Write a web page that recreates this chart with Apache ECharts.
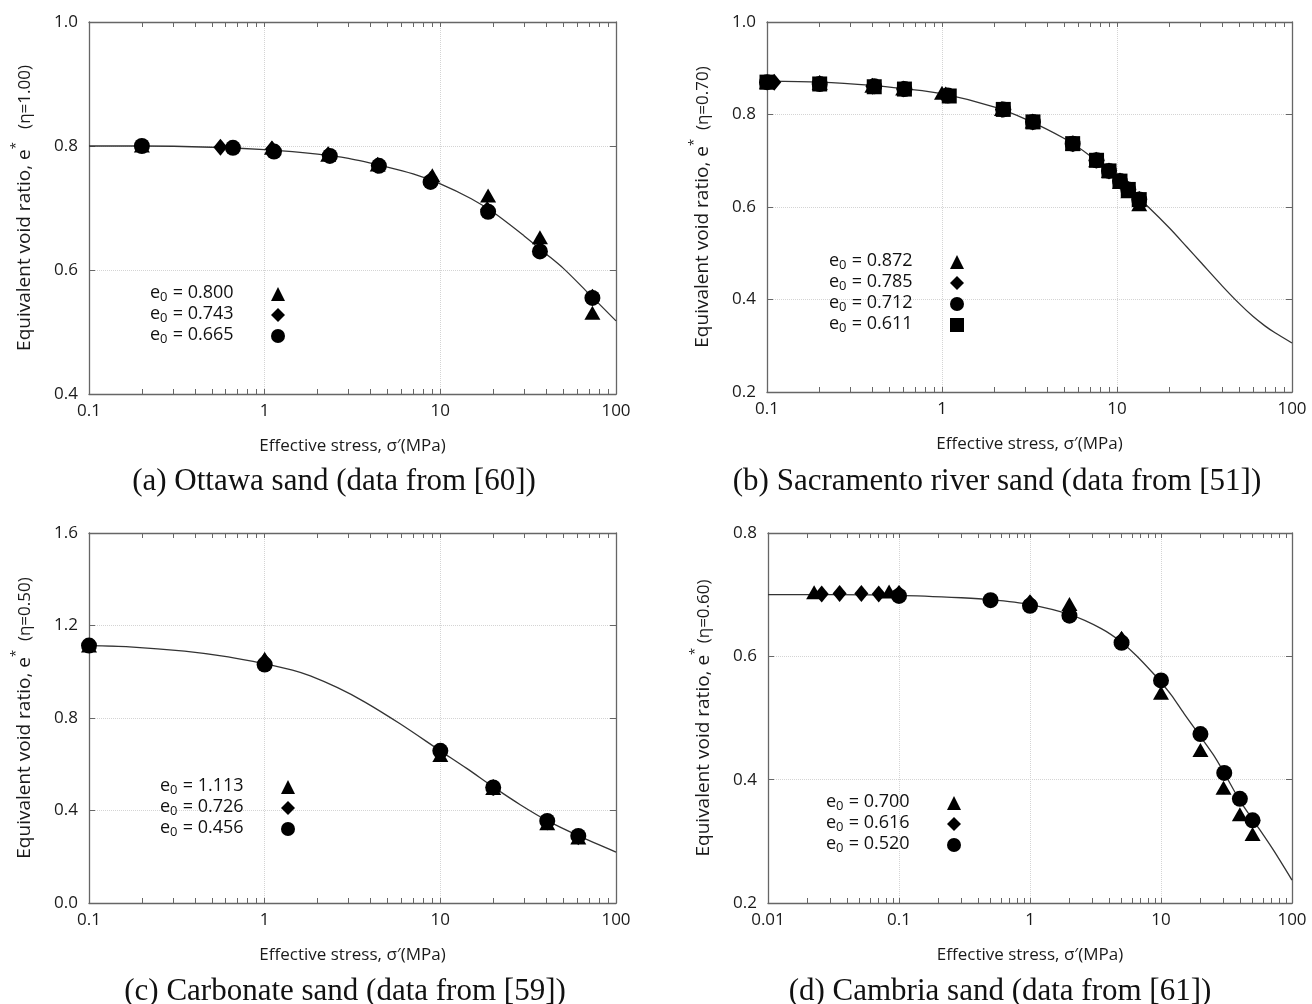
<!DOCTYPE html>
<html><head><meta charset="utf-8">
<script src="https://cdn.jsdelivr.net/npm/echarts@6.0.0/dist/echarts.min.js"></script>
<style>html,body{margin:0;padding:0;background:#fff}#c{width:1312px;height:1004px}</style>
</head><body><div id="c"></div><script>
// ---------- DATA ----------
// (a) Ottawa sand
const aLabels = ['0.800', '0.743', '0.665'];
const aTri = [[0.2,0.801],[1.1,0.797],[2.3,0.786],[4.4,0.770],[9.0,0.753],[18.7,0.720],[36.9,0.653],[73.4,0.531]];
const aDia = [[0.56,0.798],[1.1,0.795],[2.3,0.786],[4.4,0.769],[8.8,0.746],[18.5,0.697],[36.9,0.633],[73.4,0.556]];
const aCir = [[0.2,0.800],[0.66,0.797],[1.13,0.791],[2.35,0.784],[4.47,0.768],[8.8,0.742],[18.7,0.694],[36.9,0.630],[73.4,0.555]];
const aCurve = [[0.1,0.800],[0.2,0.800],[0.5,0.798],[1,0.794],[2,0.787],[3,0.780],[5,0.766],[7,0.755],[10,0.739],[15,0.715],[20,0.693],[30,0.655],[40,0.626],[50,0.603],[70,0.562],[100,0.518]];
// (b) Sacramento river sand
const bLabels = ['0.872', '0.785', '0.712', '0.611'];
const bTri = [[0.1,0.870],[0.2,0.868],[0.4,0.862],[0.6,0.856],[1.0,0.847],[2.2,0.812],[3.3,0.785],[5.6,0.737],[7.6,0.701],[9.0,0.678],[10.4,0.654],[11.6,0.634],[13.4,0.606]];
const bDia = [[0.11,0.870],[0.2,0.867],[0.4,0.861],[0.6,0.855],[1.05,0.842],[2.2,0.811],[3.3,0.784],[5.6,0.737],[7.6,0.701],[9.0,0.678],[10.4,0.656],[11.6,0.638],[13.4,0.616]];
const bCir = [[0.1,0.870],[0.2,0.866],[0.41,0.861],[0.61,0.855],[1.08,0.841],[2.24,0.811],[3.31,0.784],[5.58,0.737],[7.64,0.701],[9.0,0.678],[10.4,0.656],[11.6,0.638],[13.4,0.616]];
const bSq = [[0.1,0.870],[0.2,0.866],[0.41,0.860],[0.61,0.855],[1.1,0.840],[2.24,0.811],[3.31,0.784],[5.58,0.737],[7.64,0.701],[9.0,0.678],[10.4,0.656],[11.6,0.638],[13.4,0.616]];
const bCurve = [[0.1,0.872],[0.2,0.870],[0.4,0.863],[0.6,0.856],[1,0.845],[2,0.816],[3,0.790],[5,0.748],[7,0.711],[10,0.663],[15,0.601],[20,0.554],[25,0.514],[30,0.481],[40,0.429],[50,0.391],[60,0.363],[70,0.343],[80,0.328],[100,0.306]];
// (c) Carbonate sand
const cLabels = ['1.113', '0.726', '0.456'];
const cTri = [[0.1,1.113],[1,1.056],[10,0.640],[20,0.497],[40.6,0.345],[61,0.283]];
const cDia = [[1,1.045],[10,0.650],[20,0.500],[40.6,0.350],[61,0.287]];
const cCir = [[0.1,1.113],[1,1.031],[10,0.658],[20,0.500],[40.6,0.355],[61,0.290]];
const cCurve = [[0.1,1.113],[0.17,1.108],[0.35,1.089],[0.62,1.064],[1,1.034],[1.44,1.007],[1.82,0.982],[2.6,0.931],[3.7,0.870],[5.9,0.775],[10,0.658],[14.2,0.581],[20,0.502],[28.5,0.425],[40.6,0.356],[61,0.291],[100,0.220]];
// (d) Cambria sand
const dLabels = ['0.700', '0.616', '0.520'];
const dTri = [[0.0225,0.704],[0.084,0.705],[2,0.685],[5,0.630],[10,0.541],[20,0.448],[30,0.387],[40,0.344],[50,0.312]];
const dDia = [[0.0257,0.701],[0.0352,0.702],[0.0516,0.702],[0.070,0.701],[0.1,0.702],[1,0.687],[5,0.627]];
const dCir = [[0.1,0.698],[0.5,0.691],[1,0.682],[2,0.666],[5,0.622],[10,0.561],[20,0.474],[30.4,0.411],[40,0.369],[50,0.334]];
const dCurve = [[0.01,0.700],[0.03,0.700],[0.1,0.699],[0.3,0.695],[0.5,0.692],[1,0.684],[2,0.668],[3.5,0.645],[5,0.623],[6.5,0.601],[8.5,0.575],[10,0.558],[12,0.537],[15,0.507],[20,0.470],[25,0.441],[30,0.413],[40,0.366],[53,0.328],[72,0.286],[100,0.237]];
// tick labels
const xTicks3 = [0.1, 1, 10, 100];
const xTicks4 = [0.01, 0.1, 1, 10, 100];
const captions = ['(a) Ottawa sand (data from [60])', '(b) Sacramento river sand (data from [51])',
                  '(c) Carbonate sand (data from [59])', '(d) Cambria sand (data from [61])'];
const etaLabels = ['(η=1.00)', '(η=0.70)', '(η=0.50)', '(η=0.60)'];
const xName = 'Effective stress, σ′(MPa)';

// ---------- LAYOUT / BUILD ----------
const F = "'Open Sans', sans-serif";
const SERIF = "'Liberation Serif', 'Times New Roman', serif";
const AX = '#666';
function minorTicks(majors) {
  const out = [];
  for (let i = 0; i < majors.length - 1; i++) for (let k = 1; k <= 9; k++) out.push(+(majors[i] * k).toPrecision(6));
  out.push(majors[majors.length - 1]);
  return out;
}
const panels = [
  { grid: {left: 89, top: 22, width: 527, height: 372}, majors: xTicks3, y: [0.4, 1.0, 0.2], eta: etaLabels[0], sep: '  ',
    cap: [334, 466], leg: [150, 284], labels: aLabels,
    sets: [['triangle', aTri], ['diamond', aDia], ['circle', aCir]], curve: aCurve },
  { grid: {left: 767, top: 22, width: 525, height: 370}, majors: xTicks3, y: [0.2, 1.0, 0.2], eta: etaLabels[1], sep: ' ',
    cap: [997, 466], leg: [829, 252], labels: bLabels,
    sets: [['triangle', bTri], ['diamond', bDia], ['circle', bCir], ['rect', bSq]], curve: bCurve },
  { grid: {left: 89, top: 533, width: 527, height: 370}, majors: xTicks3, y: [0.0, 1.6, 0.4], eta: etaLabels[2], sep: ' ',
    cap: [345, 976], leg: [160, 777], labels: cLabels,
    sets: [['triangle', cTri], ['diamond', cDia], ['circle', cCir]], curve: cCurve },
  { grid: {left: 768, top: 533, width: 524, height: 370}, majors: xTicks4, y: [0.2, 0.8, 0.2], eta: etaLabels[3], sep: '',
    cap: [1000, 976], leg: [826, 793], labels: dLabels,
    sets: [['triangle', dTri], ['diamond', dDia], ['circle', dCir]], curve: dCurve }
];
const symSize = {triangle: [16, 14], diamond: [14, 17], circle: 16, rect: 15};

const option = {
  backgroundColor: '#fff', animation: false,
  grid: [], xAxis: [], yAxis: [], series: [], legend: [], title: []
};
panels.forEach((p, i) => {
  option.grid.push(Object.assign({containLabel: false, outerBoundsMode: 'none'}, p.grid));
  const xmin = p.majors[0], xmax = p.majors[p.majors.length - 1];
  const minors = minorTicks(p.majors);
  const lineStyle = {color: AX, width: 1.3};
  option.xAxis.push({
    type: 'log', logBase: 10, gridIndex: i, min: xmin, max: xmax, position: 'bottom',
    axisLine: {show: true, onZero: false, lineStyle},
    axisTick: {show: false, customValues: p.majors},
    axisLabel: {customValues: p.majors, fontSize: 17, fontFamily: F, color: '#1a1a1a', margin: 9, formatter: v => String(v)},
    splitLine: {show: true, lineStyle: {color: '#d4d4d4', type: 'dotted', width: 1}},
    name: xName, nameLocation: 'middle', nameGap: 44,
    nameTextStyle: {fontSize: 17, fontFamily: F, color: '#1a1a1a'}
  });
  option.xAxis.push({
    type: 'log', logBase: 10, gridIndex: i, min: xmin, max: xmax, position: 'bottom',
    axisLine: {show: false, onZero: false},
    axisTick: {show: true, inside: true, length: 5, customValues: minors, lineStyle: {color: AX, width: 1}},
    axisLabel: {show: false}, splitLine: {show: false}
  });
  option.xAxis.push({
    type: 'log', logBase: 10, gridIndex: i, min: xmin, max: xmax, position: 'top',
    axisLine: {show: true, onZero: false, lineStyle},
    axisTick: {show: true, inside: true, length: 5, customValues: minors, lineStyle: {color: AX, width: 1}},
    axisLabel: {show: false}, splitLine: {show: false}
  });
  const [ymin, ymax, yint] = p.y;
  option.yAxis.push({
    type: 'value', gridIndex: i, min: ymin, max: ymax, interval: yint, position: 'left',
    axisLine: {show: true, onZero: false, lineStyle},
    axisTick: {show: true, inside: true, length: 6, lineStyle: {color: AX}},
    axisLabel: {fontSize: 17, fontFamily: F, color: '#1a1a1a', margin: 11, formatter: v => v.toFixed(1)},
    splitLine: {show: true, lineStyle: {color: '#d4d4d4', type: 'dotted', width: 1}},
    name: '{n|Equivalent void ratio, e}{s|*}{m|' + p.sep + ' ' + p.eta + '}',
    nameLocation: 'middle', nameGap: 55,
    nameTextStyle: {color: '#1a1a1a', rich: {
      n: {fontSize: 19, fontFamily: F, lineHeight: 24, verticalAlign: 'bottom', color: '#1a1a1a'},
      s: {fontSize: 13, fontFamily: F, lineHeight: 24, verticalAlign: 'top', color: '#1a1a1a'},
      m: {fontSize: 17, fontFamily: F, lineHeight: 24, verticalAlign: 'bottom', color: '#1a1a1a'}
    }}
  });
  option.yAxis.push({
    type: 'value', gridIndex: i, min: ymin, max: ymax, interval: yint, position: 'right',
    axisLine: {show: true, onZero: false, lineStyle},
    axisTick: {show: true, inside: true, length: 6, lineStyle: {color: AX}},
    axisLabel: {show: false}, splitLine: {show: false}
  });
  option.series.push({
    type: 'line', xAxisIndex: 3 * i, yAxisIndex: 2 * i, data: p.curve, showSymbol: false,
    smooth: 0.3, silent: true, z: 2, lineStyle: {color: '#333', width: 1.3}
  });
  const names = [];
  p.sets.forEach(([sym, data], k) => {
    const nm = 'e0 = ' + p.labels[k];
    names.push(nm);
    option.series.push({
      type: 'scatter', name: nm, xAxisIndex: 3 * i, yAxisIndex: 2 * i, data,
      symbol: sym, symbolSize: symSize[sym], itemStyle: {color: '#000', opacity: 1}, z: 3 + k
    });
  });
  option.legend.push({
    data: names, orient: 'vertical', left: p.leg[0], top: p.leg[1], align: 'right',
    itemWidth: 14, itemHeight: 14, itemGap: 1, padding: 0, selectedMode: false,
    formatter: nm => '{e|e}{s|0}{t|\u00a0=\u00a0' + nm.split('= ')[1] + '}',
    textStyle: {color: '#111', rich: {
      e: {fontSize: 18, fontFamily: F, lineHeight: 20, verticalAlign: 'top', width: 10, align: 'left', color: '#111'},
      s: {fontSize: 13, fontFamily: F, lineHeight: 20, verticalAlign: 'bottom', width: 8, align: 'left', color: '#111'},
      t: {fontSize: 18, fontFamily: F, lineHeight: 20, verticalAlign: 'top', width: 98, align: 'left', color: '#111'}
    }}
  });
  option.title.push({
    text: captions[i], left: p.cap[0], top: p.cap[1], textAlign: 'center', padding: 0,
    textStyle: {fontFamily: SERIF, fontSize: 31, fontWeight: 'normal', color: '#111'}
  });
});
const chart = echarts.init(document.getElementById('c'), null, {renderer: 'canvas'});
chart.setOption(option);
</script></body></html>
